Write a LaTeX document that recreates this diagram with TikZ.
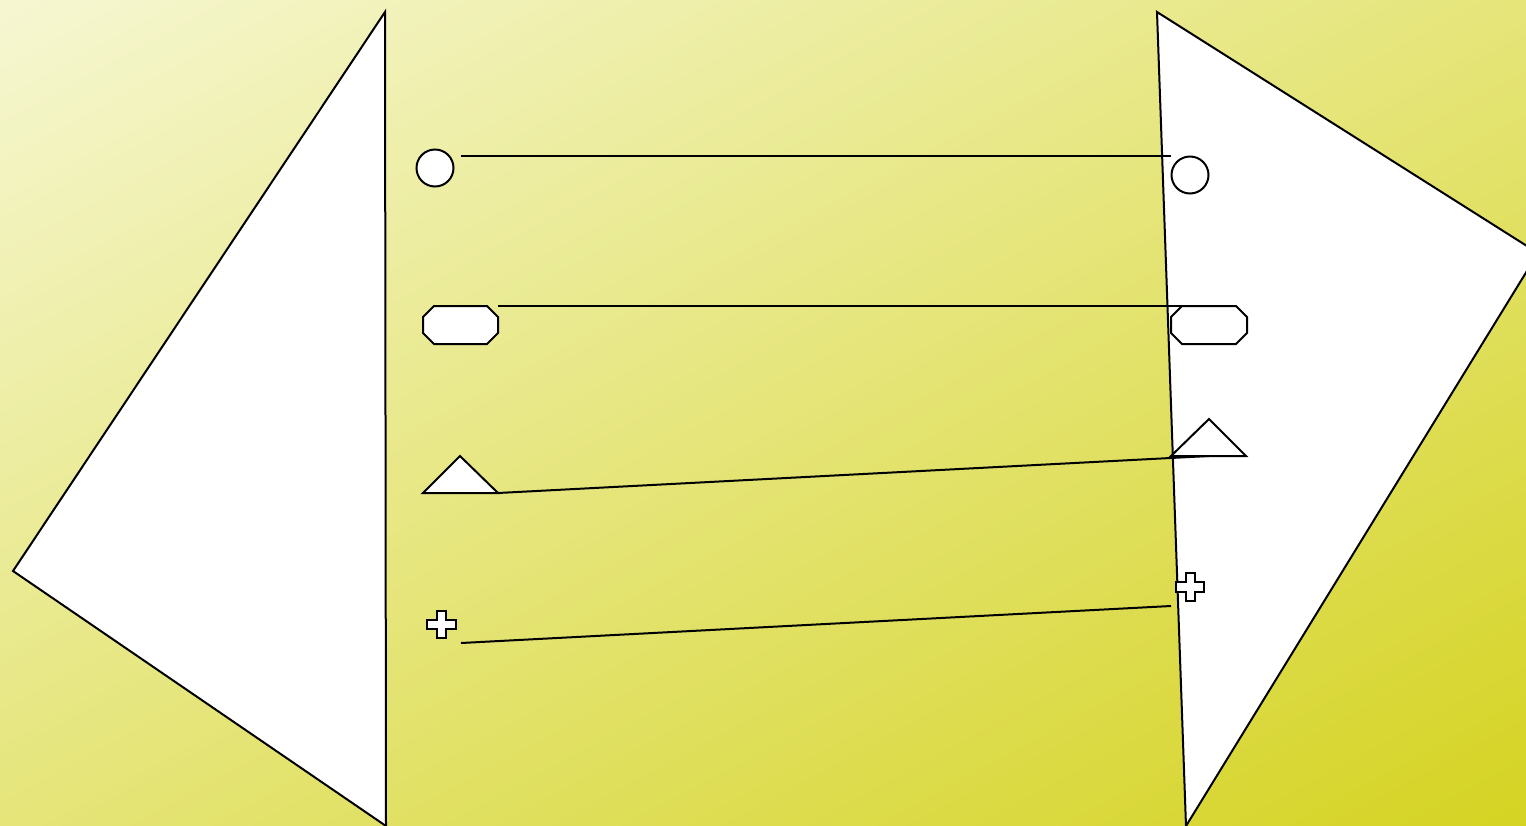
\documentclass[tikz,border=0pt]{standalone}
\usetikzlibrary{shadings}
\definecolor{bgtl}{RGB}{246,247,210}
\definecolor{bgmid}{RGB}{229,229,122}
\definecolor{bgbr}{RGB}{213,211,34}
\begin{document}
\begin{tikzpicture}[x=0.5pt,y=-0.5pt,line width=1pt,piece/.style={draw=black,fill=white,line join=miter},link/.style={draw=black}]
\useasboundingbox (0,0) rectangle (1526,825);
\clip (0,0) rectangle (1526,825);
\shade[upper left=bgtl,upper right=bgmid,lower left=bgmid,lower right=bgbr] (0,0) rectangle (1526,825);
\draw[piece] (385,12) -- (13,571) -- (386,826) -- cycle;
\draw[piece] (1157,12) -- (1538,253) -- (1186,826) -- cycle;
\node[piece,circle,inner sep=0pt,minimum size=18.5pt] (cl) at (435,168) {};
\node[piece,circle,inner sep=0pt,minimum size=18.5pt] (cr) at (1190,175) {};
\draw[piece] (434,306) -- (487,306) -- (498,317) -- (498,333) -- (487,344) -- (434,344) -- (423,333) -- (423,317) -- cycle;
\draw[piece] (1182,306) -- (1236,306) -- (1247,317) -- (1247,333) -- (1236,344) -- (1182,344) -- (1171,333) -- (1171,317) -- cycle;
\draw[piece] (423,493) -- (460,456) -- (498,493) -- cycle;
\draw[piece] (1171,456) -- (1209,419) -- (1246,456) -- cycle;
\draw[piece] (437,611) -- (446,611) -- (446,620) -- (456,620) -- (456,629) -- (446,629) -- (446,638) -- (437,638) -- (437,629) -- (427,629) -- (427,620) -- (437,620) -- cycle;
\draw[piece] (1186,573) -- (1195,573) -- (1195,582) -- (1204,582) -- (1204,592) -- (1195,592) -- (1195,601) -- (1186,601) -- (1186,592) -- (1176,592) -- (1176,582) -- (1186,582) -- cycle;
\coordinate (a1) at (461,156);
\coordinate (b1) at (1171,156);
\coordinate (a2) at (498,306);
\coordinate (b2) at (1209,306);
\coordinate (a3) at (498,493);
\coordinate (b3) at (1209,456);
\coordinate (a4) at (461,643);
\coordinate (b4) at (1171,606);
\draw[link] (a1) -- (b1);
\draw[link] (a2) -- (b2);
\draw[link] (a3) -- (b3);
\draw[link] (a4) -- (b4);
\end{tikzpicture}
\end{document}
